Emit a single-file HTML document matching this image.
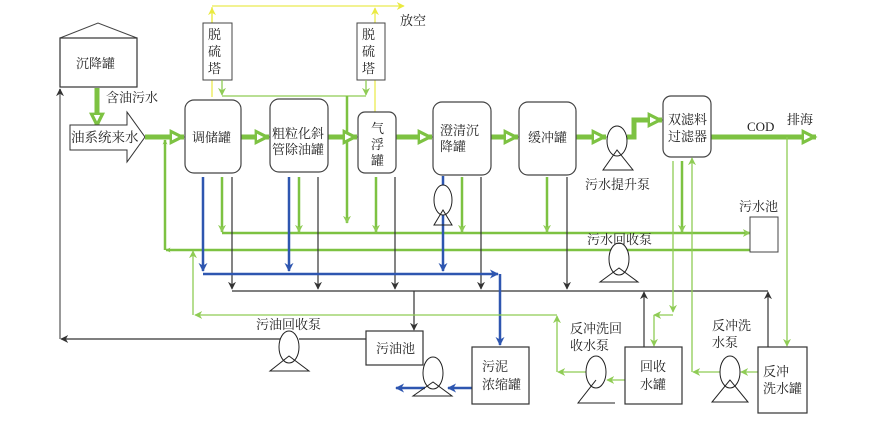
<!DOCTYPE html>
<html><head><meta charset="utf-8"><style>
html,body{margin:0;padding:0;background:#fff;}
svg{display:block;}
text{font-family:"Liberation Serif","Noto Serif CJK SC","Noto Sans CJK SC",serif;font-size:13px;fill:#222;}
</style></head><body>
<svg width="882" height="421" viewBox="0 0 882 421" xmlns="http://www.w3.org/2000/svg">
<defs>
<marker id="g" viewBox="0 0 10 10" refX="9" refY="5" markerWidth="5" markerHeight="5" orient="auto-start-reverse" markerUnits="userSpaceOnUse"><path d="M0,0L10,5L0,10L3,5z" fill="#7dc242"/></marker>
<marker id="gl" viewBox="0 0 10 10" refX="9" refY="5" markerWidth="8" markerHeight="8" orient="auto" markerUnits="userSpaceOnUse"><path d="M0,0L10,5L0,10L3,5z" fill="#8fcc55"/></marker>
<marker id="G" viewBox="0 0 10 10" refX="9" refY="5" markerWidth="16" markerHeight="16" orient="auto" markerUnits="userSpaceOnUse"><path d="M0,0L10,5L0,10z" fill="#7dc242"/><path d="M1.5,3L5.5,5L1.5,7z" fill="#fff"/></marker>
<marker id="b" viewBox="0 0 10 10" refX="9" refY="5" markerWidth="9" markerHeight="9" orient="auto" markerUnits="userSpaceOnUse"><path d="M0,0L10,5L0,10L3,5z" fill="#2e56b0"/></marker>
<marker id="k" viewBox="0 0 10 10" refX="9" refY="5" markerWidth="8" markerHeight="8" orient="auto" markerUnits="userSpaceOnUse"><path d="M0,0L10,5L0,10L3,5z" fill="#333"/></marker>
<marker id="y" viewBox="0 0 10 10" refX="9" refY="5" markerWidth="8" markerHeight="8" orient="auto" markerUnits="userSpaceOnUse"><path d="M0,0L10,5L0,10L3,5z" fill="#eaea40"/></marker>
</defs>

<!-- yellow vent lines -->
<g stroke="#eaea50" stroke-width="1.3" fill="none">
<polyline points="212,97 212,7"/>
<polyline points="212,6 404,6" marker-end="url(#y)"/>
<line x1="212" y1="80" x2="212" y2="8" marker-end="url(#y)"/>
<line x1="375" y1="112" x2="375" y2="8" marker-end="url(#y)"/>
</g>
<!-- desulfur towers -->
<g fill="#fff" stroke="#444" stroke-width="1">
<rect x="203" y="23" width="29" height="57"/>
<rect x="357" y="23" width="28" height="57"/>
</g>
<text x="208" y="39">脱</text><text x="208" y="56">硫</text><text x="208" y="73">塔</text>
<text x="362" y="39">脱</text><text x="362" y="56">硫</text><text x="362" y="73">塔</text>
<text x="400" y="25">放空</text>

<!-- light green under towers -->
<g stroke="#8fcc55" stroke-width="1.3" fill="none">
<line x1="222" y1="80" x2="222" y2="95" marker-end="url(#gl)"/>
<line x1="366" y1="80" x2="366" y2="95" marker-end="url(#gl)"/>
<line x1="222" y1="96" x2="366" y2="96"/>
</g>
<line x1="347" y1="96" x2="347" y2="223" stroke="#7dc242" stroke-width="2.5" marker-end="url(#gl)"/>

<!-- settling tank -->
<path d="M60,38 L98,23 L137,38" fill="none" stroke="#444" stroke-width="1"/>
<rect x="60" y="38" width="77" height="49" fill="#fff" stroke="#333" stroke-width="1.2"/>
<text x="76" y="68">沉降罐</text>
<line x1="97" y1="88" x2="97" y2="127" stroke="#7dc242" stroke-width="5" marker-end="url(#G)"/>
<text x="106" y="102">含油污水</text>

<!-- gray return line -->
<line x1="60" y1="339" x2="60" y2="89" stroke="#999" stroke-width="2" marker-end="url(#k)"/>
<line x1="289" y1="339" x2="61" y2="339" stroke="#333" stroke-width="1.2" marker-end="url(#k)"/>
<line x1="366" y1="339" x2="299" y2="339" stroke="#333" stroke-width="1.2"/>

<!-- inflow arrow shape -->
<path d="M70,125 L127,125 L127,112 L145,137 L127,162 L127,150 L70,150 Z" fill="#fff" stroke="#333" stroke-width="1"/>
<text x="71" y="142" style="font-size:13.5px">油系统来水</text>

<!-- main thick green flow -->
<g stroke="#7dc242" stroke-width="5" fill="none">
<line x1="145" y1="137" x2="184" y2="137" marker-end="url(#G)"/>
<line x1="241" y1="137" x2="269" y2="137" marker-end="url(#G)"/>
<line x1="328" y1="137" x2="357" y2="137" marker-end="url(#G)"/>
<line x1="396" y1="137" x2="432" y2="137" marker-end="url(#G)"/>
<line x1="491" y1="137" x2="518" y2="137" marker-end="url(#G)"/>
<line x1="576" y1="137" x2="606" y2="137" marker-end="url(#G)"/>
<polyline points="627,137 634,137 634,120 662,120" marker-end="url(#G)"/>
<line x1="711" y1="137" x2="816" y2="137" marker-end="url(#G)"/>
</g>
<text x="747" y="131">COD</text><text x="787" y="124">排海</text>

<!-- tanks -->
<g fill="#fff" stroke="#444" stroke-width="1.2">
<rect x="185" y="100" width="56" height="73" rx="9"/>
<rect x="270" y="99" width="58" height="73" rx="9"/>
<rect x="358" y="112" width="38" height="61" rx="7"/>
<rect x="433" y="102" width="58" height="73" rx="9"/>
<rect x="519" y="102" width="57" height="73" rx="9"/>
<rect x="663" y="96" width="48" height="61" rx="8"/>
</g>
<text x="192" y="142">调储罐</text>
<text x="272" y="138">粗粒化斜</text><text x="272" y="154">管除油罐</text>
<text x="371" y="133">气</text><text x="371" y="149">浮</text><text x="371" y="165">罐</text>
<text x="440" y="135">澄清沉</text><text x="440" y="151">降罐</text>
<text x="528" y="142">缓冲罐</text>
<text x="668" y="124">双滤料</text><text x="668" y="141">过滤器</text>

<!-- lift pump -->
<ellipse cx="617" cy="141" rx="10" ry="15" fill="#fff" stroke="#222"/>
<path d="M617,150 L603,170 L633,170 Z" fill="none" stroke="#222"/>
<text x="585" y="189">污水提升泵</text>

<!-- green vertical at 165 & return lines -->
<line x1="750" y1="250" x2="166" y2="250" stroke="#7dc242" stroke-width="2.5" marker-end="url(#g)"/>
<line x1="165" y1="250" x2="165" y2="140" stroke="#7dc242" stroke-width="2.5" marker-end="url(#g)"/>
<line x1="222" y1="233" x2="750" y2="233" stroke="#7dc242" stroke-width="2.5" marker-end="url(#gl)"/>

<!-- green down from tanks -->
<g stroke="#7dc242" stroke-width="2.5">
<line x1="222" y1="177" x2="222" y2="232" marker-end="url(#gl)"/>
<line x1="299" y1="177" x2="299" y2="232" marker-end="url(#gl)"/>
<line x1="376" y1="177" x2="376" y2="232" marker-end="url(#gl)"/>
<line x1="462" y1="177" x2="462" y2="232" marker-end="url(#gl)"/>
<line x1="547" y1="177" x2="547" y2="232" marker-end="url(#gl)"/>
<line x1="682" y1="161" x2="682" y2="232" marker-end="url(#gl)"/>
</g>

<!-- black lines -->
<g stroke="#333" stroke-width="1.2">
<line x1="232" y1="177" x2="232" y2="289" marker-end="url(#k)"/>
<line x1="318" y1="177" x2="318" y2="289" marker-end="url(#k)"/>
<line x1="395" y1="177" x2="395" y2="289" marker-end="url(#k)"/>
<line x1="481" y1="177" x2="481" y2="289" marker-end="url(#k)"/>
<line x1="567" y1="177" x2="567" y2="289" marker-end="url(#k)"/>
<line x1="232" y1="291" x2="768" y2="291"/>
<line x1="414" y1="291" x2="414" y2="330" marker-end="url(#k)"/>
<line x1="644" y1="347" x2="644" y2="292" marker-end="url(#k)"/>
<line x1="768" y1="347" x2="768" y2="292" marker-end="url(#k)"/>
</g>

<!-- blue lines -->
<g stroke="#2e56b0" stroke-width="2.5" fill="none">
<line x1="203" y1="177" x2="203" y2="271" marker-end="url(#b)"/>
<line x1="289" y1="177" x2="289" y2="271" marker-end="url(#b)"/>
<line x1="443" y1="176" x2="443" y2="186"/>
<line x1="443" y1="212" x2="443" y2="271" marker-end="url(#b)"/>
<line x1="203" y1="274" x2="498" y2="274" marker-end="url(#b)"/>
<line x1="500" y1="274" x2="500" y2="345" marker-end="url(#b)"/>
<line x1="472" y1="388" x2="448" y2="388" marker-end="url(#b)"/>
<line x1="425" y1="388" x2="396" y2="388" marker-end="url(#b)"/>
</g>

<!-- pump under clarifier -->
<ellipse cx="443" cy="200" rx="9" ry="15" fill="#fff" stroke="#222"/>
<path d="M443,210 L434,225 L452,225 Z" fill="none" stroke="#222"/>

<!-- sewage pool -->
<rect x="750" y="217" width="28" height="35" fill="#fff" stroke="#444"/>
<text x="739" y="211">污水池</text>
<ellipse cx="619" cy="259" rx="10" ry="16" fill="#fff" stroke="#222"/>
<path d="M619,268 L600,282 L638,282 Z" fill="none" stroke="#222"/>
<text x="587" y="244">污水回收泵</text>

<!-- light green backwash lines -->
<g stroke="#8fcc55" stroke-width="1.3" fill="none">
<line x1="673" y1="161" x2="673" y2="312" marker-end="url(#gl)"/>
<line x1="673" y1="315" x2="654" y2="315" marker-end="url(#gl)"/>
<line x1="654" y1="315" x2="654" y2="346" marker-end="url(#gl)"/>
<line x1="692" y1="372" x2="692" y2="158" marker-end="url(#gl)"/>
<line x1="720" y1="372" x2="693" y2="372" marker-end="url(#gl)"/>
<line x1="758" y1="372" x2="741" y2="372" marker-end="url(#gl)"/>
<line x1="787" y1="137" x2="787" y2="346" marker-end="url(#gl)"/>
<line x1="625" y1="380" x2="607" y2="380" marker-end="url(#gl)"/>
<line x1="586" y1="372" x2="558" y2="372" marker-end="url(#gl)"/>
<line x1="557" y1="372" x2="557" y2="316" marker-end="url(#gl)"/>
<line x1="557" y1="315" x2="195" y2="315" marker-end="url(#gl)"/>
<line x1="193" y1="315" x2="193" y2="251" marker-end="url(#gl)"/>
</g>

<!-- bottom tanks -->
<g fill="#fff" stroke="#333" stroke-width="1.2">
<rect x="366" y="331" width="57" height="34"/>
<rect x="472" y="347" width="57" height="57"/>
<rect x="625" y="347" width="57" height="57"/>
<rect x="758" y="347" width="49" height="66"/>
</g>
<text x="376" y="353">污油池</text>
<text x="482" y="371">污泥</text><text x="482" y="389">浓缩罐</text>
<text x="640" y="371">回收</text><text x="640" y="389">水罐</text>
<text x="763" y="376">反冲</text><text x="763" y="393">洗水罐</text>

<!-- pumps bottom -->
<g fill="#fff" stroke="#222">
<ellipse cx="289" cy="347" rx="10" ry="16"/>
<ellipse cx="433" cy="373" rx="10" ry="16"/>
<ellipse cx="596" cy="372" rx="10" ry="16"/>
<ellipse cx="730" cy="372" rx="10" ry="16"/>
</g>
<g fill="none" stroke="#222">
<path d="M289,356 L270,371 L309,371 Z"/>
<path d="M433,382 L413,396 L452,396 Z"/>
<path d="M596,380 L578,403 L615,403 M578,403 L596,380"/>
<path d="M730,380 L712,402 L748,402 Z"/>
</g>
<text x="256" y="329">污油回收泵</text>
<text x="570" y="333">反冲洗回</text><text x="570" y="350">收水泵</text>
<text x="712" y="330">反冲洗</text><text x="712" y="347">水泵</text>
</svg>
</body></html>
